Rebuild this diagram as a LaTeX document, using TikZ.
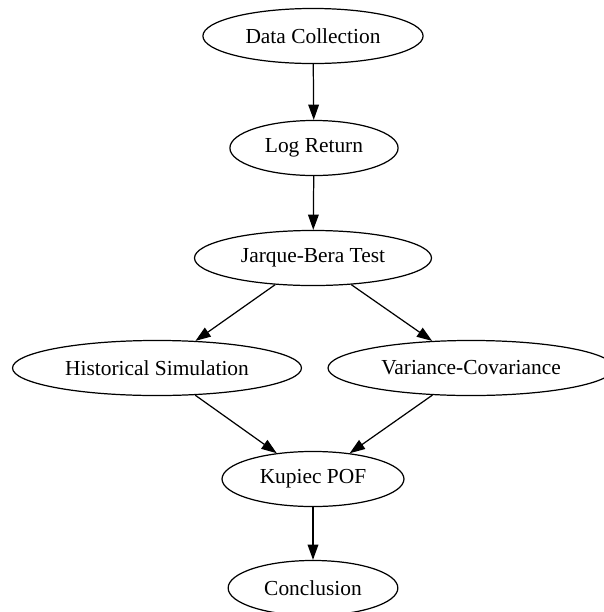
\documentclass[tikz,border=0pt]{standalone}
\usepackage{fontspec}
\setmainfont{Liberation Serif}
\usetikzlibrary{arrows.meta,shapes.geometric}
\begin{document}
\begin{tikzpicture}[x=0.654pt,y=-0.654pt,
	stage/.style={ellipse, draw, line width=0.8pt, inner sep=0pt, minimum height=36pt, font=\fontsize{14}{16}\selectfont},
	flow/.style={line width=0.8pt, -{Triangle[length=10pt,width=7pt]}}]
	\useasboundingbox (0,0) rectangle (604,612);
	\node[stage, minimum width=144pt] (data) at (313,36) {Data Collection};
	\node[stage, minimum width=110pt] (logret) at (314,148) {Log Return};
	\node[stage, minimum width=155pt] (jb) at (313,258) {Jarque-Bera Test};
	\node[stage, minimum width=189pt] (hist) at (157,368) {Historical Simulation};
	\node[stage, minimum width=187pt] (varcov) at (471,368) {Variance-Covariance};
	\node[stage, minimum width=119pt] (kupiec) at (313,479) {Kupiec POF};
	\node[stage, minimum width=111pt] (concl) at (313,588) {Conclusion};
	\draw[flow] (data) -- (logret);
	\draw[flow] (logret) -- (jb);
	\draw[flow] (jb) -- (hist);
	\draw[flow] (jb) -- (varcov);
	\draw[flow] (hist) -- (kupiec);
	\draw[flow] (varcov) -- (kupiec);
	\draw[flow] (kupiec) -- (concl);
\end{tikzpicture}
\end{document}
